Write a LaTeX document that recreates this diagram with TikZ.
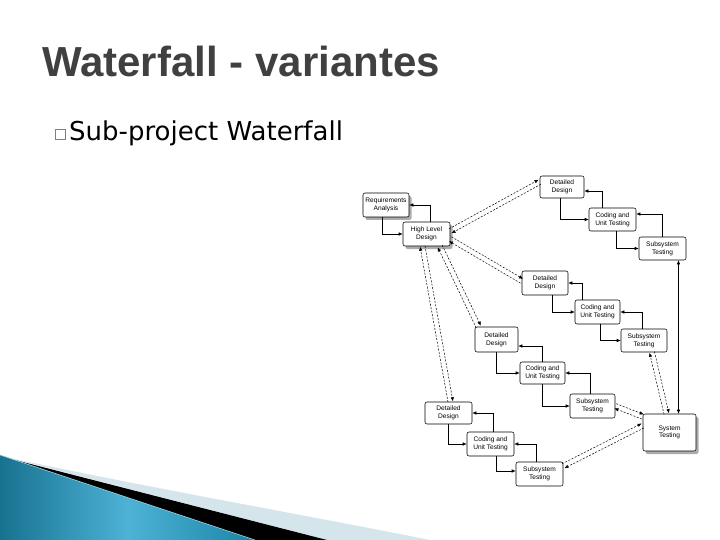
\documentclass[tikz,border=0pt]{standalone}
\usepackage{fontspec}
\setmainfont{Liberation Sans}
\newfontfamily\titlefont{Liberation Sans}
\newfontfamily\bodyfont{DejaVu Sans}
\usetikzlibrary{arrows.meta,calc,shadows}
\definecolor{titlegray}{HTML}{404040}
\definecolor{bullteal}{HTML}{3A9AB3}
\definecolor{bandlight}{HTML}{D5E5EC}
\definecolor{blueA}{HTML}{17728F}
\definecolor{blueB}{HTML}{4DB2D6}
\definecolor{blueC}{HTML}{1B86A8}
\tikzset{
  box/.style={draw, line width=0.55pt, rounded corners=2pt, align=center, inner sep=0pt,
    font=\fontsize{6.6}{7.6}\selectfont, fill=white},
  shd/.style={drop shadow={shadow xshift=2.5pt, shadow yshift=-3pt, fill=gray!65, opacity=1}},
  arr/.style={line width=0.55pt, -{Latex[length=4pt,width=3.5pt]}},
  arrb/.style={line width=0.55pt, {Latex[length=4pt,width=3.5pt]}-{Latex[length=4pt,width=3.5pt]}},
  dl/.style={line width=0.5pt, dash pattern=on 2pt off 1.5pt, -{Latex[length=4pt,width=3.5pt]}}
}
\newcommand\dpair[2]{%
  \draw[dl] ($(#1)!2.5pt!90:(#2)$) -- ($(#2)!2.5pt!-90:(#1)$);
  \draw[dl] ($(#2)!2.5pt!90:(#1)$) -- ($(#1)!2.5pt!-90:(#2)$);
}
\begin{document}
\begin{tikzpicture}[x=1pt,y=-1pt]
\useasboundingbox (0,0) rectangle (720,540);
\fill[white] (0,0) rectangle (720,540);
% bottom-left decoration
\fill[bandlight] (10,458) .. controls (150,488) and (300,514) .. (430,540) -- (327,540) -- cycle;
\fill[black] (15,460) -- (327,540) -- (255,540) -- cycle;
\shade[left color=blueA, right color=blueC, middle color=blueB] (0,455) -- (255,540) -- (0,540) -- cycle;
\draw[blueB!60!white, line width=0.6pt] (0,455) -- (255,540);
% title
\node[anchor=base west, text=titlegray, font=\titlefont\bfseries\fontsize{42}{48}\selectfont, inner sep=0pt] (title) at (42,77) {Waterfall - variantes};
% bullet
\node[draw=bullteal, line width=1.1pt, minimum size=10pt, inner sep=0pt, anchor=south west] (bsq) at (55,140) {};
\node[anchor=base west, inner sep=0pt, font=\bodyfont\fontsize{26}{30}\selectfont] (bullet) at (69,141) {Sub-project Waterfall};
% boxes
\node[box,shd,minimum width=46pt,minimum height=24pt] (req) at (386,205) {Requirements\\Analysis};
\node[box,shd,minimum width=47pt,minimum height=24pt] (hld) at (426.5,234) {High Level\\Design};
\node[box,minimum width=44pt,minimum height=22pt] (dd1) at (562,187) {Detailed\\Design};
\node[box,minimum width=47pt,minimum height=23pt] (cu1) at (612.5,219.5) {Coding and\\Unit Testing};
\node[box,minimum width=47pt,minimum height=23pt] (ss1) at (662.5,248.5) {Subsystem\\Testing};
\node[box,minimum width=46pt,minimum height=24pt] (dd2) at (545,283) {Detailed\\Design};
\node[box,minimum width=45pt,minimum height=24pt] (cu2) at (597.5,312) {Coding and\\Unit Testing};
\node[box,minimum width=46pt,minimum height=23pt] (ss2) at (644,340.5) {Subsystem\\Testing};
\node[box,minimum width=43pt,minimum height=25pt] (dd3) at (496.5,339.5) {Detailed\\Design};
\node[box,minimum width=45pt,minimum height=22pt] (cu3) at (542.5,373) {Coding and\\Unit Testing};
\node[box,minimum width=45pt,minimum height=24pt] (ss3) at (592.5,406) {Subsystem\\Testing};
\node[box,minimum width=47pt,minimum height=22pt] (dd4) at (448.5,413) {Detailed\\Design};
\node[box,minimum width=47pt,minimum height=24pt] (cu4) at (490.5,444) {Coding and\\Unit Testing};
\node[box,minimum width=47pt,minimum height=24pt] (ss4) at (539.5,474) {Subsystem\\Testing};
\node[box,shd,minimum width=53pt,minimum height=37pt] (sys) at (669.5,432.5) {System\\Testing};
% solid elbow connectors
\draw[arr] ([xshift=-4pt]req.south) |- (hld.west);
\draw[arr] ([xshift=4pt]hld.north) |- (req.east);
\draw[arr] ([xshift=-2pt]dd1.south) |- (cu1.west);
\draw[arr] ([xshift=-10pt]cu1.north) |- ([yshift=-4pt]dd1.east);
\draw[arr] ([xshift=3.5pt]cu1.south) |- (ss1.west);
\draw[arr] (ss1.north) |- ([yshift=5.5pt]cu1.east);
\draw[arr] ([xshift=7pt]dd2.south) |- (cu2.west);
\draw[arr] ([xshift=-15pt]cu2.north) |- (dd2.east);
\draw[arr] ([xshift=2.5pt]cu2.south) |- (ss2.west);
\draw[arr] ([xshift=-2pt]ss2.north) |- (cu2.east);
\draw[arr] (dd3.south) |- (cu3.west);
\draw[arr] (cu3.north) |- ([yshift=-6.5pt]dd3.east);
\draw[arr] (cu3.south) |- (ss3.west);
\draw[arr] ([xshift=-2.5pt]ss3.north) |- (cu3.east);
\draw[arr] (dd4.south) |- (cu4.west);
\draw[arr] ([xshift=2.5pt]cu4.north) |- (dd4.east);
\draw[arr] ([xshift=5.5pt]cu4.south) |- ([yshift=3pt]ss4.west);
\draw[arr] ([xshift=-3.5pt]ss4.north) |- (cu4.east);
\draw[arrb] ([xshift=16pt]ss1.south) -- ([xshift=16pt]ss1.south |- sys.north);
% dashed pairs
\coordinate (a1) at ([yshift=3pt]hld.east);
\coordinate (b1) at ([yshift=5pt]dd1.west);
\coordinate (a2) at ([yshift=-5pt]hld.east);
\coordinate (b2) at ([yshift=2pt]dd2.west);
\coordinate (a3) at ([xshift=13.5pt]hld.south);
\coordinate (b3) at ([xshift=-18pt]dd3.north);
\coordinate (a4) at ([xshift=-4pt]hld.south);
\coordinate (b4) at ([xshift=2pt]dd4.north);
\coordinate (a5) at ([xshift=8pt]ss2.south);
\coordinate (b5) at ([xshift=-3pt]sys.north);
\coordinate (a6) at (ss3.east);
\coordinate (b6) at ([yshift=-3pt]sys.north west);
\coordinate (a7) at ([yshift=8pt]ss4.east);
\coordinate (b7) at ([yshift=-12pt]sys.north west);
\dpair{a1}{b1}
\dpair{a2}{b2}
\dpair{a3}{b3}
\dpair{a4}{b4}
\dpair{a5}{b5}
\dpair{a6}{b6}
\dpair{a7}{b7}
\end{tikzpicture}
\end{document}
